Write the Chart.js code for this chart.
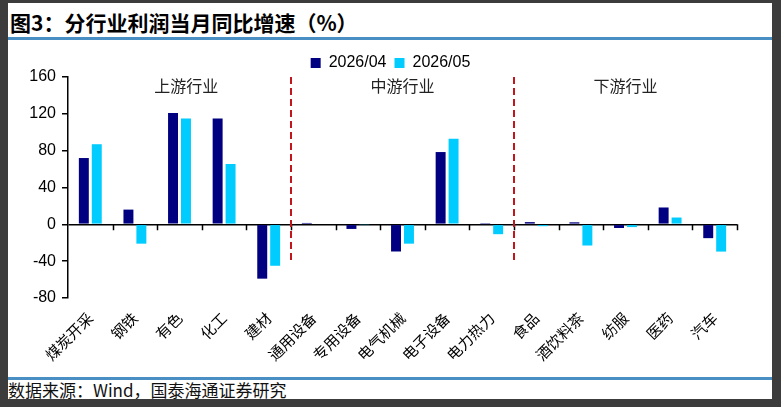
<!DOCTYPE html>
<html>
<head>
<meta charset="utf-8">
<script src="https://cdn.jsdelivr.net/npm/chart.js@4.4.1/dist/chart.umd.min.js"></script>
<style>
  html, body { margin: 0; padding: 0; background: #3c3c3c; }
  body { width: 781px; height: 407px; position: relative; overflow: hidden; }
  .sheet { position: absolute; left: 8px; top: 3px; width: 764px; height: 396px; background: #fff; }
  .title { position: absolute; left: 10px; top: 8px; font: bold 21px "Noto Sans CJK SC", sans-serif; color: #000; line-height: 28px; }
  .rule { position: absolute; left: 8px; width: 764px; height: 3px; background: #4a8fc4; }
  .source { position: absolute; left: 8px; top: 380px; font: 17px "Noto Sans CJK SC", serif; color: #111; line-height: 20px; }
  #wrap { position: absolute; left: 0; top: 0; width: 781px; height: 407px; }
</style>
</head>
<body>
<div class="sheet"></div>
<div class="title">图3：分行业利润当月同比增速（%）</div>
<div class="rule" style="top:37px"></div>
<div class="rule" style="top:377px"></div>
<div class="source">数据来源：Wind，国泰海通证券研究</div>
<div id="wrap"><canvas id="chart" width="781" height="407"></canvas></div>
<script>
// 分行业利润当月同比增速
const categorias = ['煤炭开采', '钢铁', '有色', '化工', '建材', '通用设备', '专用设备', '电气机械', '电子设备', '电力热力', '食品', '酒饮料茶', '纺服', '医药', '汽车'];
const serieAbr = [72, 16, 121, 115, -59, 1.5, -5, -29.5, 78.5, 0.2, 2.4, 2.2, -4, 18.3, -15];
const serieMai = [87, -21, 115, 65.5, -45, 0, -0.5, -21, 93, -10.7, -2, -23, -3, 7.4, -29.6];
const legendas = ['2026/04', '2026/05'];
const yTicks = [-80, -40, 0, 40, 80, 120, 160];

// grupos: rótulo + posição (índice da categoria) e divisórias
const grupos = ['上游行业', '中游行业', '下游行业'];
const grupoPos = [2.15, 7, 12];
const divisorias = [4.5, 9.5];

// desce um pouco a legenda (fica mais perto do gráfico, como no original)
const ajusteLegenda = {
    id: 'ajusteLegenda',
    afterLayout(chart) {
        if (chart.legend) {
            chart.legend.top += 4;
            chart.legend.bottom += 4;
        }
    }
};

const decoracao = {
    id: 'decoracao',
    afterDatasetsDraw(chart) {
        const { ctx, scales: { x, y } } = chart;
        const y0 = y.getPixelForValue(0);
        ctx.save();
        // marcas do eixo x na linha zero
        ctx.strokeStyle = '#000';
        ctx.lineWidth = 1.5;
        ctx.beginPath();
        for (let i = 1; i <= categorias.length; i++) {
            const px = Math.round(x.getPixelForValue(i - 0.5)) + 0.5;
            ctx.moveTo(px, y0);
            ctx.lineTo(px, y0 + 6);
        }
        ctx.stroke();
        // linhas tracejadas vermelhas
        ctx.strokeStyle = '#c0161c';
        ctx.lineWidth = 2;
        ctx.setLineDash([7, 4]);
        divisorias.forEach(d => {
            const px = x.getPixelForValue(d);
            ctx.beginPath();
            ctx.moveTo(px, y.getPixelForValue(160));
            ctx.lineTo(px, y.getPixelForValue(-41));
            ctx.stroke();
        });
        ctx.setLineDash([]);
        // rótulos dos grupos
        ctx.fillStyle = '#222';
        ctx.font = '16px "Noto Sans CJK SC", sans-serif';
        ctx.textAlign = 'center';
        ctx.textBaseline = 'middle';
        grupos.forEach((g, i) => {
            ctx.fillText(g, x.getPixelForValue(grupoPos[i]), y.getPixelForValue(150.5));
        });
        ctx.restore();
    }
};

new Chart(document.getElementById('chart').getContext('2d'), {
    type: 'bar',
    data: {
        labels: categorias,
        datasets: [
            { label: legendas[0], data: serieAbr, backgroundColor: '#000080', categoryPercentage: 0.58, barPercentage: 0.77 },
            { label: legendas[1], data: serieMai, backgroundColor: '#00ccff', categoryPercentage: 0.58, barPercentage: 0.77 }
        ]
    },
    options: {
        responsive: false,
        animation: false,
        layout: { padding: { left: 8, right: 8, top: 43, bottom: 0 } },
        plugins: {
            tooltip: { enabled: false },
            legend: {
                position: 'top',
                labels: {
                    boxWidth: 10, boxHeight: 10, padding: 8, color: '#000',
                    font: { family: '"Liberation Sans", Arial, sans-serif', size: 16 }
                }
            }
        },
        scales: {
            x: {
                grid: { display: false, drawTicks: false },
                border: { display: false },
                ticks: {
                    color: '#000', minRotation: 45, maxRotation: 45, autoSkip: false, padding: 11,
                    font: { family: '"Noto Sans CJK SC", sans-serif', size: 15 }
                },
                afterFit: s => { s.height = 109; }
            },
            y: {
                min: -80, max: 160,
                afterBuildTicks: s => { s.ticks = yTicks.map(v => ({ value: v })); },
                grid: {
                    color: c => (c.tick && c.tick.value === 0 ? '#000' : 'rgba(0,0,0,0)'),
                    lineWidth: 1.5, tickColor: '#000', tickLength: 6, drawTicks: true
                },
                border: { display: true, color: '#000', width: 1.5 },
                ticks: {
                    color: '#000', padding: 6,
                    font: { family: '"Liberation Sans", Arial, sans-serif', size: 16 }
                },
                afterFit: s => { s.width = 60; }
            },
            margem: {
                type: 'linear', position: 'right', display: true,
                grid: { display: false }, border: { display: false }, ticks: { display: false },
                afterFit: s => { s.width = 36; }
            }
        }
    },
    plugins: [ajusteLegenda, decoracao]
});
</script>
</body>
</html>
